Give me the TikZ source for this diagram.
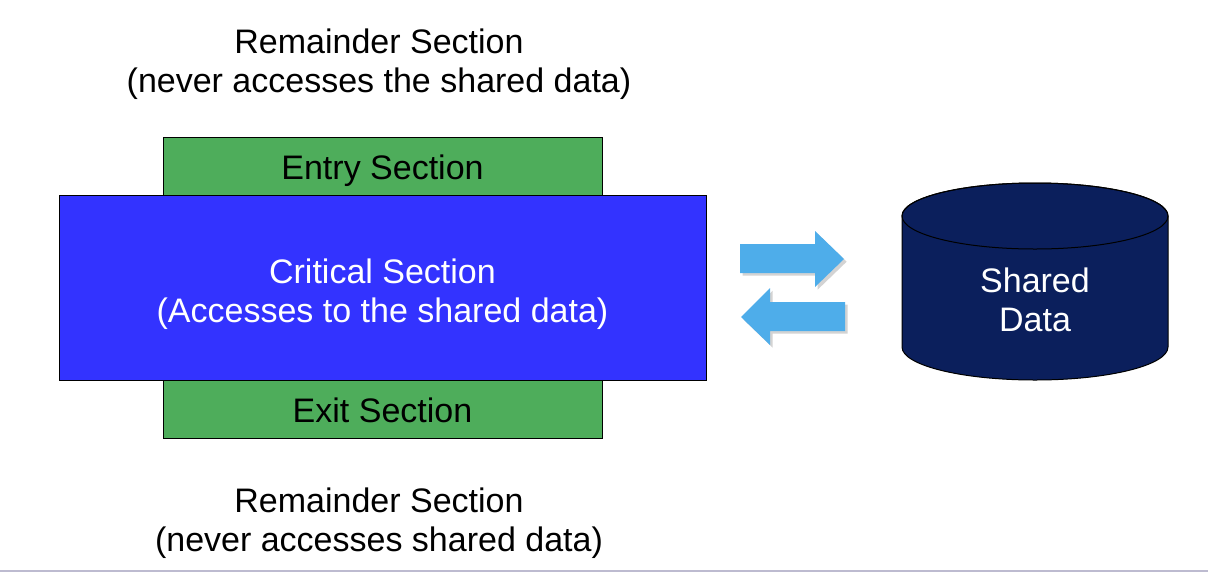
\documentclass[tikz,border=0pt]{standalone}
\usepackage{fontspec}
\setmainfont{Liberation Sans}
\usetikzlibrary{positioning}
\usetikzlibrary{shadows}
\definecolor{entrygreen}{HTML}{4EAD5B}
\definecolor{critblue}{HTML}{3333FF}
\definecolor{datanavy}{HTML}{0B1F5C}
\definecolor{flowblue}{HTML}{4EADEA}
\definecolor{rulegray}{HTML}{BDBBD0}
\newcommand\bigtext{\fontsize{25.5}{29.2}\selectfont}

\begin{document}
\begin{tikzpicture}[x=0.75pt, y=-0.75pt, line width=0.75pt,
    section/.style={draw=black, inner sep=0pt},
    label/.style={inner sep=0pt, font=\bigtext, align=center},
    flow/.style={fill=flowblue, drop shadow={shadow xshift=2pt, shadow yshift=-2pt, fill=gray, opacity=0.35}}]
    \useasboundingbox (0,0) rectangle (1208,572);
    %% remainder, top
    \node[label] (remtop) at (379,64) {Remainder Section\\(never accesses the shared data)};
    %% sections
    \node[section, fill=entrygreen, minimum width=329.25pt, minimum height=43.5pt] (entry) at (382.5,166) {};
    \node[label] (entrytext) at (382.5,171) {Entry Section};
    \node[section, fill=entrygreen, minimum width=329.25pt, minimum height=43.5pt] (exit) at (382.5,409) {};
    \node[label] (exittext) at (382.5,410) {Exit Section};
    \node[section, fill=critblue, minimum width=485.25pt, minimum height=138.75pt] (crit) at (382.5,287.5) {};
    \node[label, text=white] (crittext) at (382.5,294) {Critical Section\\(Accesses to the shared data)};
    %% remainder, bottom
    \node[label] (rembot) at (379,523) {Remainder Section\\(never accesses shared data)};
    %% arrows
    \fill[flow] (740,244) -- (815,244) -- (815,231) -- (844,259) -- (815,287) -- (815,273) -- (740,273) -- cycle;
    \fill[flow] (845,302) -- (770,302) -- (770,288) -- (741,317) -- (770,345) -- (770,331) -- (845,331) -- cycle;
    %% shared data
    \filldraw[fill=datanavy, draw=black] (902,216) -- (902,347) arc[start angle=180, end angle=0, x radius=133, y radius=33] -- (1168,216) arc[start angle=0, end angle=-180, x radius=133, y radius=33] -- cycle;
    \draw (1035,216) ellipse[x radius=133, y radius=33];
    \node[label, text=white] (data) at (1035,300) {Shared\\Data};
    %% bottom rule
    \draw[rulegray, line width=1.5pt] (0,571) -- (1208,571);
\end{tikzpicture}
\end{document}
